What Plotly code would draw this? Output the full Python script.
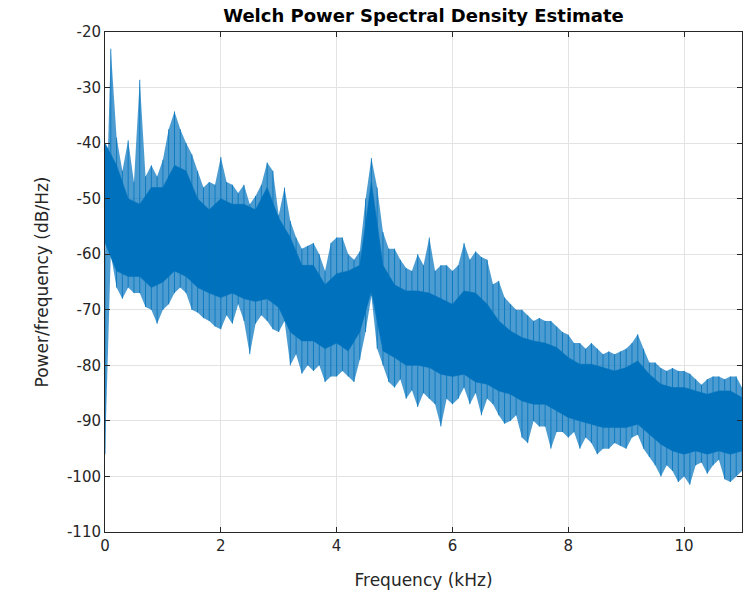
import plotly.graph_objects as go

# ---- data ----
# Spike extremes, read every 0.1 kHz
freq_khz = [round(i * 0.1, 1) for i in range(111)]

psd_hi = [
    -60, -23, -39, -45, -39.5, -47, -28.6, -46, -44, -46,
    -43, -37.5, -34.3, -37.5, -40, -42, -45, -48, -47, -47.5,
    -42.5, -47, -47.5, -49, -47.5, -51, -49.5, -47.5, -43.5, -45,
    -53, -48, -54, -57, -59, -58.5, -58, -60, -63, -58,
    -57, -57, -60, -61, -59.5, -50, -42.7, -48, -56, -59,
    -59, -61, -62.5, -63, -60, -62, -57, -63, -62, -62,
    -63, -62, -58, -61, -59.5, -60.5, -61, -65.4, -64.8, -67.8,
    -69, -70, -70, -71, -72, -71.5, -72, -72, -73, -74,
    -74.5, -76, -76, -77, -76, -77, -78, -77.5, -78, -77.5,
    -77, -76, -74.4, -77, -79.5, -79.5, -80.5, -81, -80.5, -81,
    -81, -81.5, -82.5, -83.5, -82.5, -82, -82, -82.5, -82, -82,
    -84,
]

psd_lo = [
    -96, -60, -66, -68, -66, -67, -67, -69.5, -70, -72.5,
    -70, -69, -67, -66, -67, -70, -70.5, -71.5, -72, -73,
    -73.5, -71, -72.5, -69, -72, -78, -72.5, -71, -72, -73.5,
    -74, -72, -80, -78, -81.5, -80, -81, -80, -83, -82,
    -82, -81, -82, -83, -79, -74, -67.5, -77, -80, -83,
    -84, -82.5, -86, -84.5, -87.5, -85, -86, -87, -91, -86,
    -87, -86, -84, -87, -85, -89, -86, -87, -89, -90.5,
    -90, -89, -93, -94, -90, -91, -91, -95, -92, -92,
    -93, -92, -95, -93, -94, -96, -95, -95, -94, -94.5,
    -95, -93, -92.5, -95, -96.5, -98, -100, -98, -99, -101,
    -100, -101.5, -98, -97.5, -99.5, -98, -97, -100.5, -101, -100,
    -99,
]

# Solid body of the spectrum, read every 0.2 kHz
core_freq_khz = [round(i * 0.2, 1) for i in range(56)]

core_hi = [
    -40, -44, -50, -51, -48, -48, -44, -45, -50, -52, -50,
    -51, -51, -52, -48, -53.5, -57, -62, -62, -65.5, -63.5,
    -63, -62, -47, -62, -65.5, -66.6, -66.6, -67, -68, -69,
    -66.6, -67, -69, -72, -73.8, -75, -75.6, -76, -76.8, -78.6,
    -79.8, -79.8, -80.4, -81, -80.4, -79.2, -81.6, -83.4, -84, -84,
    -84.6, -85.2, -84.6, -84.6, -85.8,
]

core_lo = [
    -58, -63, -64, -64, -66, -65, -63, -64, -66, -67, -67.8,
    -67, -68, -68.5, -68, -69.6, -74, -75.6, -75.6, -77, -76,
    -77.4, -74, -66.6, -77.4, -78.6, -80, -80, -80.4, -81.6, -82,
    -81.6, -83, -83.4, -84.6, -85.2, -86.4, -87, -87, -88.2, -89.4,
    -90, -90.6, -91.2, -91.2, -91.2, -90.6, -92.4, -94.2, -95.4, -96,
    -95.4, -96, -95.4, -96, -95.4,
]

x_ticks = [0, 2, 4, 6, 8, 10]
y_ticks = [-20, -30, -40, -50, -60, -70, -80, -90, -100, -110]

BLUE = "#0072BD"

fig = go.Figure()
# dense spike region between the extreme envelopes
fig.add_trace(go.Scatter(x=freq_khz, y=psd_lo, mode="lines",
                         line=dict(color="rgba(0,114,189,0)", width=0),
                         hoverinfo="skip", showlegend=False))
fig.add_trace(go.Scatter(x=freq_khz, y=psd_hi, mode="lines",
                         line=dict(color="rgba(0,114,189,0)", width=0),
                         fill="tonexty", fillcolor="rgba(0,114,189,0.7)",
                         hoverinfo="skip", showlegend=False))
# solid body
fig.add_trace(go.Scatter(x=core_freq_khz, y=core_lo, mode="lines",
                         line=dict(color=BLUE, width=0.5),
                         hoverinfo="skip", showlegend=False))
fig.add_trace(go.Scatter(x=core_freq_khz, y=core_hi, mode="lines",
                         line=dict(color=BLUE, width=0.5),
                         fill="tonexty", fillcolor=BLUE,
                         hoverinfo="skip", showlegend=False))
# individual spikes: vertical strokes from trough to peak
sx, sy = [], []
for f, h, l in zip(freq_khz, psd_hi, psd_lo):
    sx += [f, f, None]
    sy += [h, l, None]
fig.add_trace(go.Scatter(x=sx, y=sy, mode="lines", connectgaps=False,
                         line=dict(color=BLUE, width=0.8),
                         hoverinfo="skip", showlegend=False))

FONT = "DejaVu Sans, Liberation Sans, Arial, sans-serif"
tick_font = dict(family=FONT, size=15, color="#262626")
fig.update_layout(
    width=751, height=595,
    margin=dict(l=105, r=9, t=32, b=63),
    paper_bgcolor="white", plot_bgcolor="white",
    title=dict(text="<b>Welch Power Spectral Density Estimate</b>",
               xref="paper", x=0.5, xanchor="center",
               yref="container", y=0.973, yanchor="middle",
               font=dict(family=FONT, size=18, color="black")),
    font=tick_font,
)
fig.update_xaxes(
    range=[0, 11], tickvals=x_ticks, ticktext=[str(v) for v in x_ticks],
    showgrid=True, gridcolor="#e3e3e3", gridwidth=1,
    showline=True, linecolor="#262626", linewidth=1, mirror="ticks",
    ticks="inside", ticklen=5, tickcolor="#262626",
    zeroline=False,
    title=dict(text="Frequency (kHz)", font=dict(family=FONT, size=17, color="#262626"), standoff=20),
    tickfont=tick_font,
)
fig.update_yaxes(
    range=[-110, -20], tickvals=y_ticks, ticktext=[str(v) for v in y_ticks],
    showgrid=True, gridcolor="#e3e3e3", gridwidth=1,
    showline=True, linecolor="#262626", linewidth=1, mirror="ticks",
    ticks="inside", ticklen=5, tickcolor="#262626",
    zeroline=False,
    title=dict(text="Power/frequency (dB/Hz)", font=dict(family=FONT, size=17, color="#262626"), standoff=14),
    tickfont=tick_font,
)

fig.write_html("out.html")
